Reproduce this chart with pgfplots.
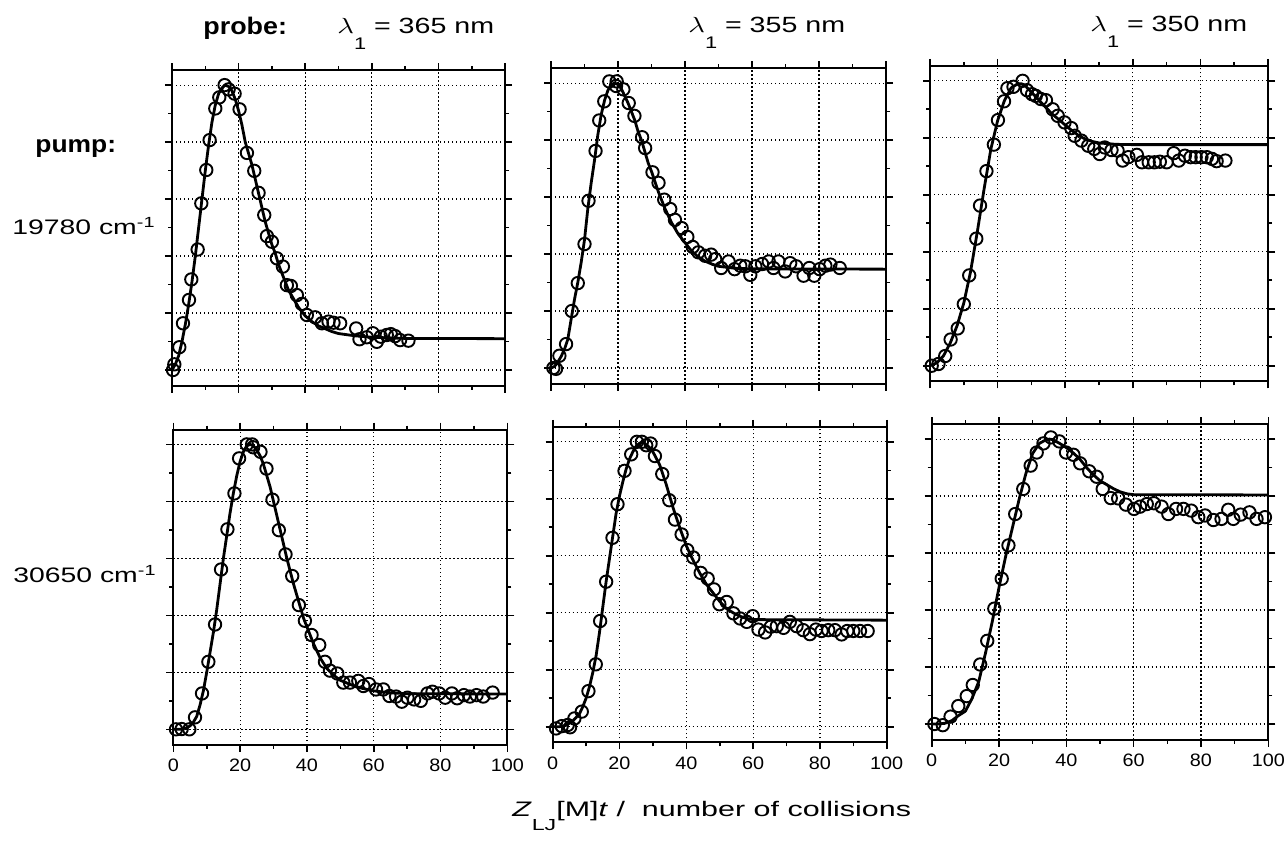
\documentclass[border=0pt]{standalone}
\usepackage{fontspec}
\setmainfont{Liberation Sans}
\usepackage{graphicx}
\usepackage{pgfplots}
\pgfplotsset{compat=1.18}
\newcommand{\sx}[1]{\scalebox{1.1}[1]{#1}}
\newcommand{\lam}[1]{\scalebox{1.3}[1]{\fontsize{11}{13}\selectfont$\lambda$\raisebox{-8pt}{\fontsize{8.4}{10}\selectfont 1} = #1 nm}}
\newcommand{\rowlab}[1]{\scalebox{1.35}[1]{\fontsize{10.5}{12}\selectfont #1 cm\textsuperscript{-1}}}
\pgfplotsset{
  panel/.style={
    scale only axis, anchor=south west,
    xmin=0, xmax=100, ymin=-0.055, ymax=1.052,
    height=157.7pt,
    xtick={0,20,40,60,80,100}, minor xtick={10,30,50,70,90},
    ytick={0,0.2,0.4,0.6,0.8,1}, minor ytick={0.1,0.3,0.5,0.7,0.9},
    yticklabels={},
    tick align=outside,
    major tick length=3.5pt, minor tick length=2pt,
    grid=major,
    major grid style={dash pattern=on 0.6pt off 1.4pt, line width=0.6pt, black},
    axis line style={line width=1pt},
    every tick/.style={black, line width=0.8pt},
    xtick pos=both, ytick pos=both,
  },
  rowtop/.style={xticklabels={}},
  rowbot/.style={xticklabels={\sx{0},\sx{20},\sx{40},\sx{60},\sx{80},\sx{100}},
    xticklabel style={font=\fontsize{9}{10}\selectfont}},
  fit/.style={black, line width=1.4pt, no marks, line join=round},
  dat/.style={only marks, mark=o, mark size=3.1pt, mark options={line width=0.95pt, black}},
}
\begin{document}
\begin{tikzpicture}
\path[use as bounding box] (0,0) rectangle (643.5pt,420.5pt);

% ---------- row 1, col 1 ----------
\begin{axis}[panel, rowtop, at={(86pt,227.65pt)}, width=166.5pt]
\addplot[fit] coordinates {(0,0)(1,0.02)(2,0.05)(3,0.1)(4,0.16)(5,0.23)(6,0.31)(7,0.4)(8,0.5)(9,0.6)(10,0.7)(11,0.79)(12,0.87)(13,0.93)(14,0.97)(15,0.99)(16,1.0)(17,0.995)(18,0.98)(19,0.95)(20,0.91)(21,0.86)(22,0.8)(23,0.76)(24,0.72)(25,0.67)(26,0.62)(27,0.57)(28,0.52)(29,0.48)(30,0.44)(31,0.41)(32,0.37)(33,0.34)(34,0.31)(35,0.28)(36,0.26)(37,0.24)(38,0.22)(39,0.205)(40,0.19)(42,0.17)(44,0.155)(46,0.145)(48,0.135)(50,0.128)(55,0.12)(60,0.115)(70,0.111)(100,0.11)};
\addplot[dat] coordinates {(0.3,0.0)(0.7,0.02)(2.2,0.08)(3.3,0.164)(5.1,0.246)(5.8,0.318)(7.7,0.423)(8.8,0.585)(10.3,0.702)(11.3,0.807)(13,0.918)(14.2,0.957)(15.8,1.0)(17,0.985)(18.8,0.97)(20.3,0.915)(22.5,0.762)(24.7,0.699)(26,0.622)(27.7,0.544)(28.5,0.47)(30,0.45)(31.5,0.392)(33.3,0.363)(34.5,0.298)(35.7,0.295)(37.5,0.263)(39,0.232)(40.5,0.193)(43,0.185)(45,0.164)(47,0.17)(48.5,0.166)(50.5,0.164)(55.3,0.146)(56.3,0.108)(58.5,0.115)(60.3,0.129)(61.5,0.099)(62.7,0.117)(64.5,0.123)(65.7,0.126)(67,0.119)(68.5,0.105)(71,0.103)};
\end{axis}

% ---------- row 1, col 2 ----------
\begin{axis}[panel, rowtop, at={(275.5pt,228.65pt)}, width=167.5pt]
\addplot[fit] coordinates {(0,0)(1,0.005)(2,0.02)(3,0.04)(4,0.065)(5,0.1)(6,0.17)(7,0.24)(8,0.3)(9,0.37)(10,0.45)(11,0.56)(12,0.65)(13,0.73)(14,0.82)(15,0.89)(16,0.94)(17,0.975)(18,0.995)(19,1.0)(20,0.995)(21,0.98)(22,0.955)(23,0.93)(24,0.9)(25,0.87)(26,0.83)(27,0.8)(28,0.76)(29,0.72)(30,0.69)(32,0.62)(34,0.56)(36,0.51)(38,0.47)(40,0.44)(42,0.41)(44,0.39)(46,0.375)(48,0.365)(50,0.357)(55,0.35)(60,0.348)(100,0.347)};
\addplot[dat] coordinates {(0.7,0)(1.5,-0.003)(2.5,0.043)(4.5,0.084)(6.2,0.2)(8,0.298)(10,0.435)(11.2,0.587)(13.3,0.762)(14.4,0.869)(15.9,0.936)(17.4,1.006)(19.4,0.99)(19.6,1.006)(21.6,0.978)(23.2,0.93)(24.9,0.885)(27.2,0.81)(28.1,0.772)(30.3,0.687)(32.1,0.65)(33.8,0.591)(35.6,0.558)(37,0.52)(39,0.491)(40.7,0.46)(42.3,0.425)(44,0.406)(46,0.394)(47.8,0.398)(49,0.382)(50.8,0.351)(53,0.374)(54.8,0.347)(56.5,0.359)(58,0.357)(59.5,0.327)(61,0.357)(63,0.365)(65,0.374)(66.4,0.351)(67.9,0.374)(69.9,0.339)(71.4,0.368)(73.2,0.357)(75.4,0.324)(77.1,0.351)(78.6,0.324)(80.2,0.347)(81.9,0.359)(83.4,0.363)(86.2,0.351)};
\end{axis}

% ---------- row 1, col 3 ----------
\begin{axis}[panel, rowtop, at={(465pt,229.8pt)}, width=169pt]
\addplot[fit] coordinates {(0,0)(2,0.01)(4,0.035)(6,0.08)(8,0.14)(10,0.22)(12,0.33)(14,0.47)(16,0.62)(18,0.76)(20,0.86)(22,0.93)(24,0.975)(26,0.99)(27,0.99)(28,0.985)(30,0.96)(32,0.935)(34,0.91)(36,0.885)(38,0.865)(40,0.845)(42,0.825)(44,0.808)(46,0.795)(48,0.787)(50,0.782)(55,0.777)(60,0.776)(100,0.776)};
\addplot[dat] coordinates {(0.5,0)(2.5,0.006)(4.5,0.034)(6.1,0.092)(8.2,0.131)(10,0.216)(11.6,0.317)(13.7,0.446)(14.8,0.562)(16.7,0.683)(18.9,0.776)(20.1,0.862)(21.9,0.928)(22.9,0.974)(24.7,0.979)(27.4,1.0)(28.7,0.967)(30.2,0.953)(31.3,0.947)(32.8,0.936)(34.3,0.932)(36.3,0.9)(37.8,0.877)(39.8,0.854)(41.8,0.834)(42.8,0.807)(44.8,0.79)(46.8,0.772)(48.6,0.761)(50.2,0.743)(51.7,0.766)(53.7,0.757)(55.5,0.755)(57,0.72)(58.7,0.732)(61.2,0.74)(62.7,0.714)(64.7,0.714)(66.4,0.714)(68,0.716)(70,0.714)(72.1,0.746)(73.6,0.72)(75.4,0.737)(77.1,0.732)(78.6,0.732)(80.3,0.732)(81.9,0.732)(83.4,0.726)(84.8,0.718)(87.4,0.72)};
\end{axis}

% ---------- row 2, col 1 ----------
\begin{axis}[panel, rowbot, at={(86.65pt,48pt)}, width=167pt]
\addplot[fit] coordinates {(0,0)(2,0.0)(4,0.005)(5,0.012)(6,0.025)(7,0.045)(8,0.085)(9,0.135)(10,0.2)(11,0.27)(12,0.34)(13,0.42)(14,0.51)(15,0.6)(16,0.68)(17,0.76)(18,0.83)(19,0.89)(20,0.94)(21,0.975)(22,0.995)(23,1.0)(24,0.995)(25,0.98)(26,0.96)(27,0.93)(28,0.89)(29,0.85)(30,0.8)(31,0.75)(32,0.7)(33,0.65)(34,0.6)(35,0.555)(36,0.51)(37,0.47)(38,0.43)(39,0.39)(40,0.36)(42,0.3)(44,0.25)(46,0.213)(48,0.19)(50,0.172)(55,0.148)(60,0.135)(65,0.128)(70,0.125)(100,0.124)};
\addplot[dat] coordinates {(0.8,0)(2.5,0.001)(4.8,0)(6.5,0.042)(8.6,0.126)(10.5,0.237)(12.5,0.368)(14.3,0.561)(16.2,0.702)(18.3,0.828)(19.7,0.951)(22,1.0)(23.6,1.0)(23.9,0.99)(26.1,0.974)(27.9,0.915)(29.7,0.806)(31.6,0.699)(33.6,0.614)(35.6,0.538)(37.6,0.436)(39.4,0.381)(41.4,0.331)(43.7,0.296)(45.4,0.237)(46.9,0.206)(49.1,0.196)(50.9,0.164)(52.9,0.164)(55.4,0.17)(56.9,0.152)(58.6,0.159)(60.7,0.14)(62.9,0.14)(64.7,0.117)(66.7,0.115)(68.4,0.097)(70.1,0.111)(72.1,0.105)(74.1,0.1)(76.1,0.126)(77.6,0.132)(79.6,0.126)(81.4,0.111)(83.4,0.126)(85,0.109)(87,0.12)(88.8,0.115)(90.8,0.12)(92.8,0.115)(95.6,0.129)};
\end{axis}

% ---------- row 2, col 2 ----------
\begin{axis}[panel, rowbot, at={(276.35pt,49.3pt)}, width=167pt]
\addplot[fit] coordinates {(0,0)(2,0.0)(4,0.005)(6,0.02)(8,0.045)(9,0.07)(10,0.1)(11,0.14)(12,0.19)(13,0.25)(14,0.33)(15,0.42)(16,0.51)(17,0.59)(18,0.67)(19,0.75)(20,0.81)(21,0.86)(22,0.905)(23,0.94)(24,0.965)(25,0.985)(26,0.995)(27,1.0)(28,0.99)(29,0.98)(30,0.965)(32,0.92)(34,0.85)(36,0.77)(38,0.7)(40,0.635)(42,0.585)(44,0.54)(46,0.5)(48,0.47)(50,0.44)(52,0.415)(54,0.4)(56,0.388)(58,0.38)(60,0.376)(100,0.374)};
\addplot[dat] coordinates {(1,-0.006)(2.7,0.002)(4.5,0.006)(5.2,-0.002)(6.5,0.029)(8.7,0.053)(10.7,0.125)(12.9,0.219)(14.2,0.371)(16,0.509)(17.9,0.663)(19.4,0.781)(21.5,0.898)(23.5,0.956)(25.2,1.0)(26.7,1.0)(28,0.988)(29.3,0.994)(30.6,0.95)(32.8,0.887)(34.9,0.795)(36.6,0.727)(38.6,0.675)(40.3,0.62)(42.1,0.594)(44.3,0.54)(46.4,0.52)(48.3,0.482)(49.9,0.43)(52.1,0.438)(54.1,0.398)(56.1,0.38)(58.1,0.368)(59.9,0.388)(61.6,0.341)(63.6,0.331)(65.3,0.351)(67.1,0.353)(69.1,0.347)(71,0.368)(73,0.353)(75,0.339)(77,0.325)(78.8,0.341)(80.5,0.336)(82.5,0.339)(84.5,0.339)(86.5,0.324)(88.2,0.336)(90,0.336)(92,0.336)(94.3,0.336)};
\end{axis}

% ---------- row 2, col 3 ----------
\begin{axis}[panel, rowbot, at={(465.85pt,50.65pt)}, width=168.3pt]
\addplot[fit] coordinates {(0,0)(2,0.0)(4,0.003)(6,0.012)(8,0.03)(10,0.045)(12,0.09)(14,0.15)(16,0.25)(18,0.36)(20,0.48)(22,0.59)(24,0.69)(26,0.79)(28,0.88)(30,0.95)(32,0.985)(34,0.998)(35,1.0)(36,0.998)(38,0.985)(40,0.97)(42,0.952)(44,0.93)(46,0.9)(48,0.875)(50,0.854)(52,0.84)(54,0.826)(56,0.815)(58,0.808)(60,0.805)(100,0.804)};
\addplot[dat] coordinates {(0.8,0)(3.3,-0.004)(5.6,0.026)(7.9,0.063)(10.4,0.098)(12.2,0.137)(14.4,0.209)(16.5,0.292)(18.6,0.405)(20.8,0.51)(22.8,0.627)(24.8,0.737)(27.2,0.825)(29.4,0.907)(31.2,0.953)(33.2,0.985)(35.4,1.006)(37.9,0.992)(39.9,0.953)(42.1,0.945)(44.1,0.915)(46.8,0.887)(49,0.868)(50.8,0.825)(53.2,0.793)(55.4,0.792)(57.7,0.77)(60.1,0.755)(61.9,0.763)(63.9,0.772)(66,0.775)(68.3,0.763)(70.3,0.737)(72.6,0.755)(74.8,0.755)(77.1,0.749)(79.2,0.726)(81.2,0.732)(83.7,0.716)(86.1,0.72)(88.1,0.752)(89.6,0.72)(91.8,0.735)(94.4,0.743)(96.5,0.72)(99,0.726)};
\end{axis}

% ---------- text ----------
\node[anchor=base west, inner sep=0pt] at (101.5pt,403pt) {\scalebox{1.12}[1]{\fontsize{12}{14}\selectfont\bfseries probe:}};
\node[anchor=base west, inner sep=0pt] at (168.5pt,403.5pt) {\lam{365}};
\node[anchor=base west, inner sep=0pt] at (344pt,404pt) {\lam{355}};
\node[anchor=base west, inner sep=0pt] at (545pt,404.5pt) {\lam{350}};
\node[anchor=base west, inner sep=0pt] at (17.5pt,344pt) {\scalebox{1.1}[1]{\fontsize{12}{14}\selectfont\bfseries pump:}};
\node[anchor=base west, inner sep=0pt] at (6pt,303pt) {\rowlab{19780}};
\node[anchor=base west, inner sep=0pt] at (6.5pt,129pt) {\rowlab{30650}};
\node[anchor=base west, inner sep=0pt] at (256pt,12pt) {\scalebox{1.45}[1]{\fontsize{10.5}{12}\selectfont\textit{Z}\raisebox{-7pt}{\fontsize{8}{9}\selectfont LJ}[M]\textit{t}\ /\ \ number of collisions}};
\end{tikzpicture}
\end{document}
